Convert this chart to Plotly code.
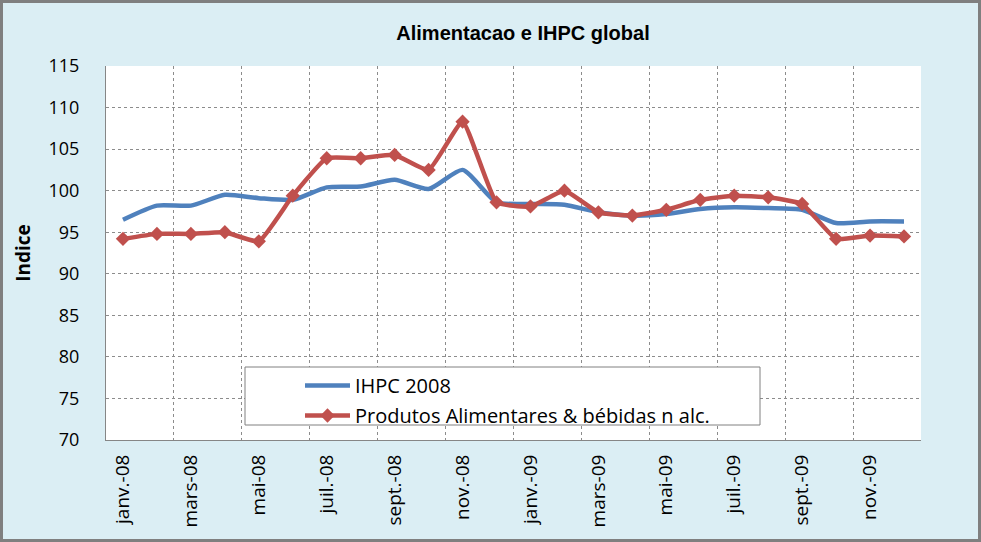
import plotly.graph_objects as go

months = ["janv.-08", "févr.-08", "mars-08", "avr.-08", "mai-08", "juin-08",
          "juil.-08", "août-08", "sept.-08", "oct.-08", "nov.-08", "déc.-08",
          "janv.-09", "févr.-09", "mars-09", "avr.-09", "mai-09", "juin-09",
          "juil.-09", "août-09", "sept.-09", "oct.-09", "nov.-09", "déc.-09"]

ihpc = [96.5, 98.2, 98.2, 99.5, 99.1, 98.9, 100.4, 100.5, 101.3, 100.2, 102.5, 98.6,
        98.4, 98.3, 97.4, 97.0, 97.2, 97.8, 98.0, 97.9, 97.7, 96.1, 96.3, 96.3]

alim = [94.2, 94.8, 94.8, 95.0, 93.9, 99.4, 103.9, 103.9, 104.3, 102.5, 108.3, 98.6,
        98.1, 100.0, 97.4, 97.0, 97.7, 98.9, 99.4, 99.2, 98.4, 94.2, 94.6, 94.5]

tick_idx = list(range(0, 24, 2))
tick_text = [months[i] for i in tick_idx]

x = list(range(len(months)))

FONT = "Open Sans, Lato, sans-serif"

fig = go.Figure()
fig.add_trace(go.Scatter(
    x=x, y=ihpc, name="IHPC 2008", mode="lines", legendgroup="a",
    line=dict(color="#4F81BD", width=4.5, shape="spline", smoothing=0.6),
))
fig.add_trace(go.Scatter(
    x=x, y=alim, name="Produtos Alimentares &amp; bébidas n alc.", mode="lines+markers",
    legendgroup="b",
    line=dict(color="#C0504D", width=4.5, shape="spline", smoothing=0.4),
    marker=dict(symbol="diamond", size=11, color="#C0504D"),
))

L, R, T, B = 106, 60, 66, 102
W, H = 981, 542
pw, ph = W - L - R, H - T - B

def px_x(p):
    return (p - L) / pw

def px_y(p):
    return (H - B - p) / ph

shapes = [
    # outer chart border
    dict(type="rect", xref="paper", yref="paper",
         x0=px_x(1.5), x1=px_x(979.5), y0=px_y(540.5), y1=px_y(1.5),
         line=dict(color="#7F7F7F", width=3), fillcolor="rgba(0,0,0,0)", layer="below"),
    # legend box
    dict(type="rect", xref="paper", yref="paper",
         x0=px_x(245), x1=px_x(760), y0=px_y(425), y1=px_y(367),
         line=dict(color="#808080", width=1), fillcolor="white", layer="above"),
]

fig.update_layout(
    width=W, height=H,
    margin=dict(l=L, r=R, t=T, b=B),
    paper_bgcolor="#DBEEF4",
    plot_bgcolor="white",
    title=dict(text="<b>Alimentacao e IHPC global</b>", x=523 / W, xanchor="center",
               y=1 - 33 / H, yanchor="middle",
               font=dict(family="Liberation Sans Narrow, Arial Narrow, Liberation Sans, sans-serif",
                         size=20, color="black")),
    showlegend=True,
    legend=dict(x=px_x(300), y=px_y(366), xanchor="left", yanchor="top",
                bgcolor="rgba(0,0,0,0)", borderwidth=0, itemwidth=45,
                font=dict(family=FONT, size=20, color="black"),
                tracegroupgap=1),
    shapes=shapes,
    font=dict(family=FONT, color="black"),
)

fig.update_xaxes(
    range=[-0.5, 23.5], tickmode="array", tickvals=tick_idx, ticktext=tick_text,
    tickangle=-90, tickfont=dict(size=19, family=FONT),
    showgrid=False, zeroline=False,
    showline=True, linecolor="#868686", linewidth=1,
    ticks="", ticklen=0, ticklabelstandoff=6,
    minor=dict(tick0=-0.5, dtick=2, showgrid=True, gridcolor="#8C8C8C",
               griddash="dot", gridwidth=1),
)
fig.update_yaxes(
    range=[70, 115], dtick=5, tick0=70,
    tickfont=dict(size=18, family=FONT),
    showgrid=True, gridcolor="#8C8C8C", griddash="dot", gridwidth=1,
    zeroline=False, showline=True, linecolor="#868686", linewidth=1,
    ticks="", ticklabelstandoff=22,
    title=dict(text="<b>Indice</b>", font=dict(size=19, family=FONT), standoff=12),
)

fig.write_html("out.html", config={"displayModeBar": False},
               post_script="document.body.style.margin='0';")
